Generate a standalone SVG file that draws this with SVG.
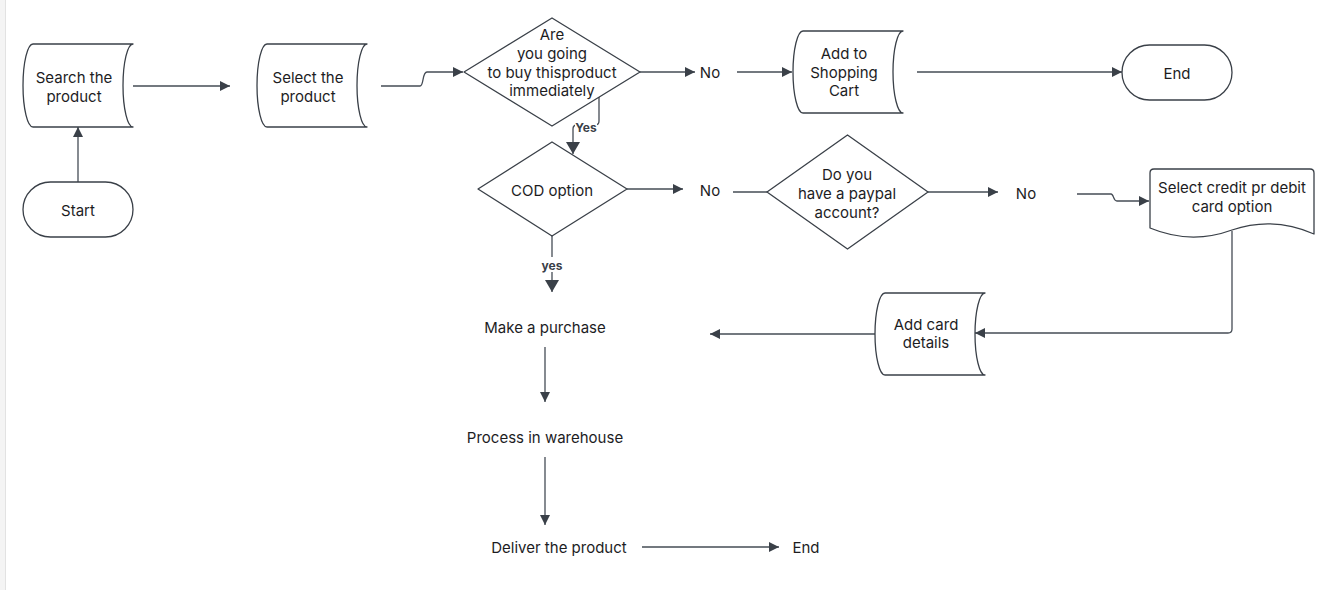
<svg xmlns="http://www.w3.org/2000/svg" width="1328" height="590" viewBox="0 0 1328 590">
<defs>
<style>
.shape{fill:#ffffff;stroke:#3a4048;stroke-width:1.3;stroke-linejoin:round}
.conn{fill:none;stroke:#454c55;stroke-width:1.3}
.t{font-family:Inter,"Noto Sans","Liberation Sans",sans-serif;font-size:15px;fill:#1d1d1f;text-anchor:middle;dominant-baseline:central}
.lbl{font-family:Inter,"Noto Sans","Liberation Sans",sans-serif;font-size:12px;font-weight:bold;fill:#3a4048;text-anchor:middle;dominant-baseline:central}
</style>
<marker id="arr" markerUnits="userSpaceOnUse" markerWidth="11" markerHeight="11" refX="10" refY="5.5" orient="auto">
<path d="M0,0.5 L10,5.5 L0,10.5 Z" fill="#3a4048"/>
</marker>
<marker id="arrB" markerUnits="userSpaceOnUse" markerWidth="13" markerHeight="15" refX="12" refY="7" orient="auto">
<path d="M0,0 L12,7 L0,14 Z" fill="#3a4048"/>
</marker>
</defs>
<rect x="0" y="0" width="1328" height="590" fill="#ffffff"/>
<rect x="0" y="0" width="5" height="590" fill="#f4f4f4"/>
<line x1="5.5" y1="0" x2="5.5" y2="590" stroke="#e2e2e2" stroke-width="1"/>

<g id="connectors">
<path class="conn" d="M78,182 V127" marker-end="url(#arr)"/>
<path class="conn" d="M133,86 H230" marker-end="url(#arr)"/>
<path class="conn" d="M381,86 H420 C424,86 422,72 427,72 H463" marker-end="url(#arr)"/>
<path class="conn" d="M640,72 H695" marker-end="url(#arr)"/>
<path class="conn" d="M737,72 H792" marker-end="url(#arr)"/>
<path class="conn" d="M917,72 H1122" marker-end="url(#arr)"/>
<path class="conn" d="M599,97 V121 Q599,125 595,125 H577 Q573,125 573,129 V154" marker-end="url(#arrB)"/>
<path class="conn" d="M627,189 H683" marker-end="url(#arr)"/>
<path class="conn" d="M733,192 H767"/>
<path class="conn" d="M928,192 H998" marker-end="url(#arr)"/>
<path class="conn" d="M1077,194 H1111 C1114,194 1113,201 1117,201 H1149" marker-end="url(#arr)"/>
<path class="conn" d="M1232,231 V329 Q1232,333 1228,333 H975" marker-end="url(#arr)"/>
<path class="conn" d="M875,334 H710" marker-end="url(#arr)"/>
<path class="conn" d="M552,236 V292" marker-end="url(#arrB)"/>
<path class="conn" d="M545,347 V402" marker-end="url(#arr)"/>
<path class="conn" d="M545,457 V525" marker-end="url(#arr)"/>
<path class="conn" d="M642,547 H779" marker-end="url(#arr)"/>
<rect x="575" y="119" width="22" height="15" fill="#ffffff"/>
<text class="lbl" x="586" y="127">Yes</text>
<rect x="539" y="257" width="26" height="15" fill="#ffffff"/>
<text class="lbl" x="552" y="265">yes</text>
</g>

<g id="start">
<rect class="shape" x="23" y="182" width="110" height="55" rx="27.5"/>
<text class="t" x="78" y="210">Start</text>
</g>

<g id="search">
<path class="shape" d="M33,44 H133 A10,41.5 0 0 0 133,127 H33 A10,41.5 0 0 1 33,44 Z"/>
<text class="t" x="74" y="77">Search the</text>
<text class="t" x="74" y="96">product</text>
</g>

<g id="select">
<path class="shape" d="M267,44 H367 A10,41.5 0 0 0 367,127 H267 A10,41.5 0 0 1 267,44 Z"/>
<text class="t" x="308" y="77">Select the</text>
<text class="t" x="308" y="96">product</text>
</g>

<g id="decision-buy">
<path class="shape" d="M552,18 L640,72 L552,126 L464,72 Z"/>
<text class="t" x="552" y="34">Are</text>
<text class="t" x="552" y="53">you going</text>
<text class="t" x="552" y="72">to buy thisproduct</text>
<text class="t" x="552" y="90">immediately</text>
</g>

<g id="no-1">
<text class="t" x="710" y="72">No</text>
</g>

<g id="cart">
<path class="shape" d="M803,31 H903 A10,41 0 0 0 903,113 H803 A10,41 0 0 1 803,31 Z"/>
<text class="t" x="844" y="53">Add to</text>
<text class="t" x="844" y="72">Shopping</text>
<text class="t" x="844" y="90">Cart</text>
</g>

<g id="end-1">
<rect class="shape" x="1122" y="45" width="110" height="55" rx="27.5"/>
<text class="t" x="1177" y="73">End</text>
</g>

<g id="decision-cod">
<path class="shape" d="M552,142 L627,189 L552,236 L478,189 Z"/>
<text class="t" x="552" y="190">COD option</text>
</g>

<g id="no-2">
<text class="t" x="710" y="190">No</text>
</g>

<g id="decision-paypal">
<path class="shape" d="M847.5,135 L928,192 L847.5,249 L767,192 Z"/>
<text class="t" x="847" y="174">Do you</text>
<text class="t" x="847" y="193">have a paypal</text>
<text class="t" x="847" y="212">account?</text>
</g>

<g id="no-3">
<text class="t" x="1026" y="193">No</text>
</g>

<g id="card-option">
<path class="shape" d="M1150,173 Q1150,169 1154,169 H1310 Q1314,169 1314,173 V234 Q1273,216 1232,230 Q1191,245 1150,228 Z"/>
<text class="t" x="1232" y="187">Select credit pr debit</text>
<text class="t" x="1232" y="206">card option</text>
</g>

<g id="card-details">
<path class="shape" d="M885,293 H985 A10,41 0 0 0 985,375 H885 A10,41 0 0 1 885,293 Z"/>
<text class="t" x="926" y="324">Add card</text>
<text class="t" x="926" y="342">details</text>
</g>

<g id="purchase">
<text class="t" x="545" y="327">Make a purchase</text>
</g>

<g id="warehouse">
<text class="t" x="545" y="437">Process in warehouse</text>
</g>

<g id="deliver">
<text class="t" x="559" y="547">Deliver the product</text>
</g>

<g id="end-2">
<text class="t" x="806" y="547">End</text>
</g>
</svg>
